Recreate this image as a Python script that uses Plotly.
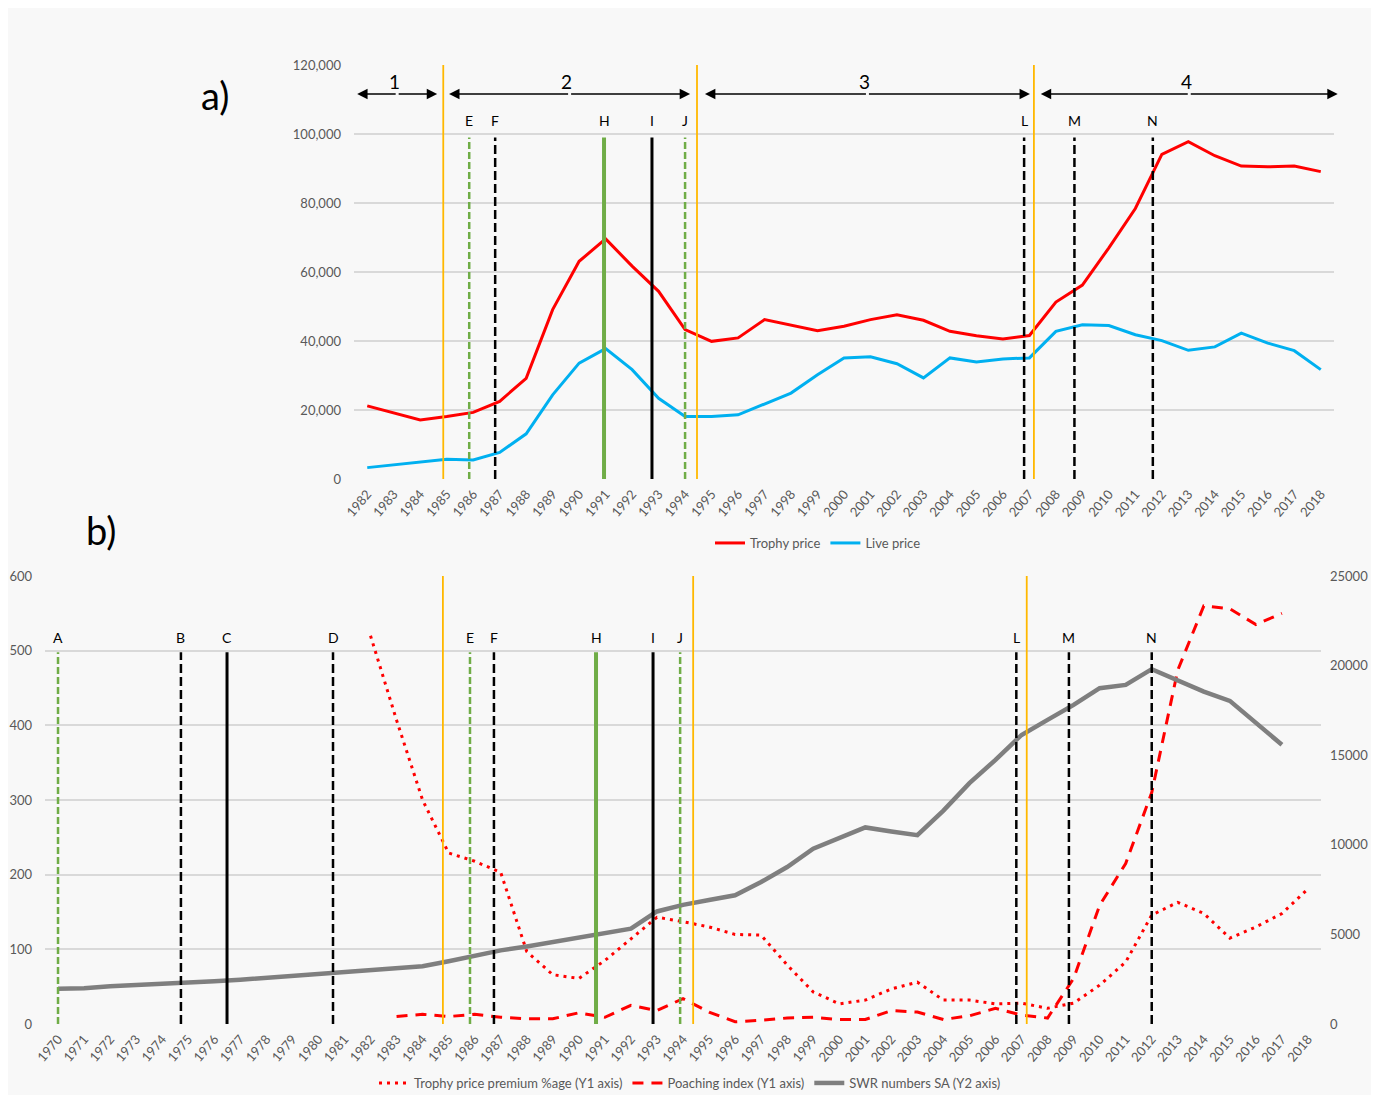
import plotly.graph_objects as go

# ---------------- DATA ----------------
years_a = list(range(1982, 2019))
trophy_price = [21200, 19100, 17100, 18100, 19300, 22500, 29200, 49100, 63100, 69600,
                61700, 54400, 43300, 39900, 40900, 46200, 44500, 43000, 44300, 46200,
                47600, 46000, 42800, 41500, 40600, 41600, 51300, 56200, 67000, 78400,
                94100, 97800, 93700, 90700, 90500, 90700, 89100]
live_price = [3300, 4100, 5000, 5700, 5500, 7700, 13100, 24400, 33600, 37800,
              31700, 23400, 18100, 18100, 18600, 21800, 24900, 30200, 35100, 35400,
              33400, 29300, 35100, 33900, 34800, 35100, 42800, 44700, 44500, 41800,
              40100, 37300, 38300, 42300, 39400, 37200, 31700]

years_b = list(range(1970, 2019))
swr_years = list(range(1970, 2018))
swr_numbers = [1970, 1990, 2100, 2160, 2210, 2270, 2380, 2470, 2570, 2680,
               2790, 2860, 2980, 3090, 3220, 3500, 3790, 4110, 4330, 4580,
               4850, 5040, 5320, 6280, 6650, 6920, 7180, 7920, 8760, 9780,
               10370, 10970, 10740, 10540, 11910, 13440, 14740, 16130, 16970, 17810,
               18740, 18920, 19800, 19160, 18550, 18030, 16780, 15580]
premium_years = list(range(1982, 2019))
premium_pct = [520, 407, 300, 229, 218, 203, 97, 66, 61, 85,
               114, 143, 137, 130, 120, 119, 79, 43, 27, 32,
               47, 56, 32, 32, 27, 28, 21, 28, 52, 83,
               146, 163, 148, 115, 130, 148, 181]
poaching_years = list(range(1983, 2018))
poaching_idx = [10, 13, 10, 13, 9, 7, 7, 15, 9, 25,
                18, 34, 16, 3, 5, 8, 9, 6, 6, 18,
                16, 6, 11, 21, 12, 8, 61, 159, 215, 310,
                474, 560, 556, 535, 550]

# events (label, position on year axis)
events_a_labels = ["E", "F", "H", "I", "J", "L", "M", "N"]
events_a_pos = [1985.85, 1986.83, 1990.94, 1992.75, 1994.0, 2006.8, 2008.7, 2011.66]
events_b_labels = ["A", "B", "C", "D", "E", "F", "H", "I", "J", "L", "M", "N"]
events_b_pos = [1970.0, 1974.72, 1976.49, 1980.56, 1985.82, 1986.74, 1990.66,
                1992.85, 1993.89, 2006.8, 2008.82, 2012.0]
period_bounds_a = [1984.87, 1994.45, 2007.17]
period_bounds_b = [1984.78, 1994.39, 2007.2]
period_labels = ["1", "2", "3", "4"]
period_arrows = [(1981.62, 1984.64), (1985.09, 1994.19), (1994.75, 2007.02), (2007.43, 2018.64)]

y_ticks_a = [0, 20000, 40000, 60000, 80000, 100000, 120000]
y_ticks_b = [0, 100, 200, 300, 400, 500, 600]
y2_ticks_b = [0, 5000, 10000, 15000, 20000, 25000]

# ---------------- STYLE ----------------
W, H = 1384, 1095
OFF = 8  # page body margin compensation
FONT = "Lato, 'Open Sans', sans-serif"
GRAY_TXT = "#595959"
GRID = "#D9D9D9"
RED = "#FF0000"
BLUE = "#00B0F0"
SWR_GRAY = "#7F7F7F"
ORANGE = "#FFB800"
GREEN = "#70AD47"

style = {
    "A": (GREEN, "7px,3px", 2.5), "B": ("black", "9px,4px", 2.5), "C": ("black", "solid", 3),
    "D": ("black", "9px,4px", 2.5), "E": (GREEN, "7px,3px", 2.5), "F": ("black", "9px,4px", 2.5),
    "H": (GREEN, "solid", 4), "I": ("black", "solid", 3), "J": (GREEN, "7px,3px", 2.5),
    "L": ("black", "9px,4px", 2.5), "M": ("black", "9px,4px", 2.5), "N": ("black", "9px,4px", 2.5),
}

def px_x(p):
    return (p - OFF) / W

def px_y(p):
    return 1 - (p - OFF) / H

fig = go.Figure()

# top chart traces
fig.add_trace(go.Scatter(x=years_a, y=trophy_price, name="Trophy price", mode="lines",
                         line=dict(color=RED, width=3), xaxis="x", yaxis="y", legend="legend"))
fig.add_trace(go.Scatter(x=years_a, y=live_price, name="Live price", mode="lines",
                         line=dict(color=BLUE, width=3), xaxis="x", yaxis="y", legend="legend"))

# bottom chart traces
fig.add_trace(go.Scatter(x=premium_years, y=premium_pct, name="Trophy price premium %age (Y1 axis)",
                         mode="lines", line=dict(color=RED, width=3, dash="3px,5px"),
                         xaxis="x2", yaxis="y2", legend="legend2"))
fig.add_trace(go.Scatter(x=poaching_years, y=poaching_idx, name="Poaching index (Y1 axis)",
                         mode="lines", line=dict(color=RED, width=3, dash="11px,8px"),
                         xaxis="x2", yaxis="y2", legend="legend2"))
fig.add_trace(go.Scatter(x=swr_years, y=swr_numbers, name="SWR numbers SA (Y2 axis)",
                         mode="lines", line=dict(color=SWR_GRAY, width=4.5),
                         xaxis="x2", yaxis="y3", legend="legend2"))

shapes = []
annotations = []

# panel background
shapes.append(dict(type="rect", xref="paper", yref="paper", x0=px_x(8), x1=px_x(1371),
                   y0=0, y1=px_y(8), fillcolor="#F8F8F8", line=dict(width=0), layer="below"))

# top event lines
for lab, pos in zip(events_a_labels, events_a_pos):
    c, d, w = style[lab]
    shapes.append(dict(type="line", xref="x", yref="y", x0=pos, x1=pos, y0=0, y1=99000,
                       line=dict(color=c, dash=d, width=w)))
    annotations.append(dict(x=pos, y=104000, xref="x", yref="y", text=lab, showarrow=False,
                            xanchor="center", yanchor="middle",
                            font=dict(size=14, color="black", family=FONT)))
for pos in period_bounds_a:
    shapes.append(dict(type="line", xref="x", yref="y", x0=pos, x1=pos, y0=0, y1=120000,
                       line=dict(color=ORANGE, width=1.8)))

# period arrows
ARROW_Y = 111600
for lab, (a, b) in zip(period_labels, period_arrows):
    mid = (a + b) / 2
    for end in (a, b):
        annotations.append(dict(x=end, y=ARROW_Y, ax=mid, ay=ARROW_Y, xref="x", yref="y",
                                axref="x", ayref="y", text="", showarrow=True, arrowhead=2,
                                arrowsize=1.3, arrowwidth=1.6, arrowcolor="black"))
    annotations.append(dict(x=mid - 0.1, y=115300, xref="x", yref="y", text=lab, showarrow=False,
                            xanchor="center", yanchor="middle",
                            font=dict(size=19, color="black", family=FONT)))

# bottom event lines
for lab, pos in zip(events_b_labels, events_b_pos):
    c, d, w = style[lab]
    shapes.append(dict(type="line", xref="x2", yref="y2", x0=pos, x1=pos, y0=0, y1=498,
                       line=dict(color=c, dash=d, width=w)))
    annotations.append(dict(x=pos, y=518, xref="x2", yref="y2", text=lab, showarrow=False,
                            xanchor="center", yanchor="middle",
                            font=dict(size=14, color="black", family=FONT)))
for pos in period_bounds_b:
    shapes.append(dict(type="line", xref="x2", yref="y2", x0=pos, x1=pos, y0=-8, y1=600,
                       line=dict(color=ORANGE, width=1.8)))

# panel letters
annotations.append(dict(x=px_x(215), y=px_y(95), xref="paper", yref="paper", text="a)",
                        xanchor="center", yanchor="middle", showarrow=False,
                        font=dict(size=38, color="black", family=FONT)))
annotations.append(dict(x=px_x(101), y=px_y(530), xref="paper", yref="paper", text="b)",
                        xanchor="center", yanchor="middle", showarrow=False,
                        font=dict(size=38, color="black", family=FONT)))

tickfont = dict(size=13, color=GRAY_TXT, family=FONT)

fig.update_layout(
    width=W, height=H,
    margin=dict(l=0, r=0, t=0, b=0, autoexpand=False),
    paper_bgcolor="white",
    plot_bgcolor="rgba(0,0,0,0)",
    font=dict(family=FONT, color=GRAY_TXT),
    shapes=shapes,
    annotations=annotations,
    xaxis=dict(domain=[px_x(354), px_x(1334)], anchor="y", range=[1981.5, 2018.5],
               tickvals=years_a, ticktext=[str(y) for y in years_a], tickangle=-50,
               showgrid=False, zeroline=False, showline=False, ticks="", tickfont=tickfont,
               automargin=False, ticklabelstandoff=4),
    yaxis=dict(domain=[px_y(479), px_y(65)], anchor="x", range=[0, 120000],
               tickvals=y_ticks_a, tickformat=",", showgrid=True, gridcolor=GRID, gridwidth=1.5,
               zeroline=False, showline=False, ticks="", automargin=False, ticklabelstandoff=12,
               tickfont=dict(size=13, color=GRAY_TXT, family=FONT)),
    xaxis2=dict(domain=[px_x(45), px_x(1321)], anchor="y2", range=[1969.5, 2018.5],
                tickvals=years_b, ticktext=[str(y) for y in years_b], tickangle=-50,
                showgrid=False, zeroline=False, showline=False, ticks="", tickfont=tickfont,
                automargin=False, ticklabelstandoff=4),
    yaxis2=dict(domain=[px_y(1024), px_y(576)], anchor="x2", range=[0, 600],
                tickvals=y_ticks_b, showgrid=True, gridcolor=GRID, gridwidth=1.5,
                zeroline=False, showline=False, ticks="", automargin=False, ticklabelstandoff=12,
                tickfont=dict(size=13, color=GRAY_TXT, family=FONT)),
    yaxis3=dict(overlaying="y2", anchor="x2", side="right", range=[0, 25000],
                tickvals=y2_ticks_b, tickformat="d", showgrid=False, zeroline=False, showline=False,
                ticks="", automargin=False, ticklabelstandoff=8,
                tickfont=dict(size=13, color=GRAY_TXT, family=FONT)),
    legend=dict(orientation="h", x=px_x(818), xanchor="center", y=px_y(543), yanchor="middle",
                bgcolor="rgba(0,0,0,0)", font=dict(size=13, color=GRAY_TXT, family=FONT),
                itemwidth=30, tracegroupgap=0),
    legend2=dict(orientation="h", x=px_x(690), xanchor="center", y=px_y(1083), yanchor="middle",
                 bgcolor="rgba(0,0,0,0)", font=dict(size=13, color=GRAY_TXT, family=FONT),
                 itemwidth=30, tracegroupgap=0),
    showlegend=True,
)

fig.write_html("out.html")
